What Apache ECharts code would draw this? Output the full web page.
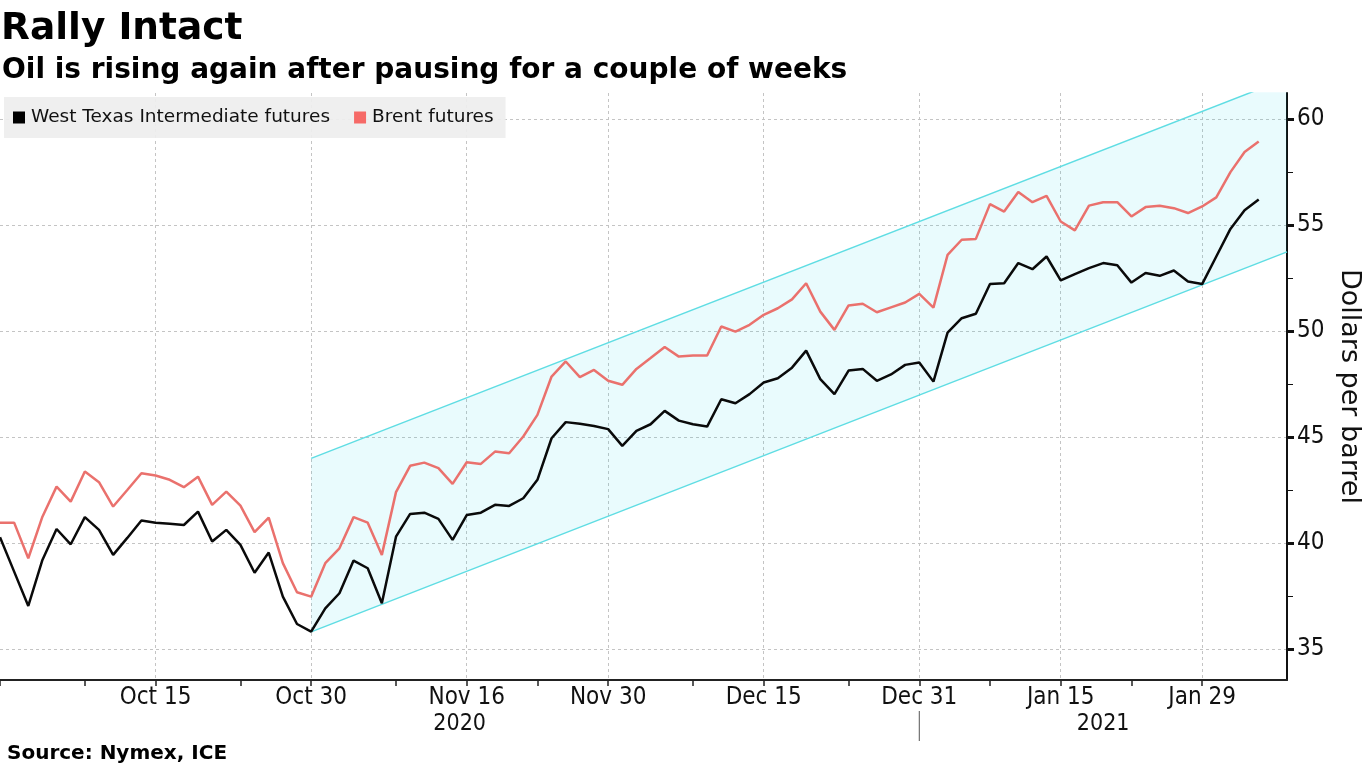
<!DOCTYPE html>
<html><head><meta charset="utf-8">
<script src="https://cdn.jsdelivr.net/npm/echarts@6/dist/echarts.min.js"></script>
<style>html,body{margin:0;padding:0;background:#fff;}#c{width:1365px;height:767px;}</style>
</head><body><div id="c"></div>
<script>
// Trading days shown on the category axis
const dates = [
'2020-09-30','2020-10-01','2020-10-02','2020-10-05','2020-10-06','2020-10-07','2020-10-08','2020-10-09',
'2020-10-12','2020-10-13','2020-10-14','2020-10-15','2020-10-16','2020-10-19','2020-10-20','2020-10-21',
'2020-10-22','2020-10-23','2020-10-26','2020-10-27','2020-10-28','2020-10-29','2020-10-30','2020-11-02',
'2020-11-03','2020-11-04','2020-11-05','2020-11-06','2020-11-09','2020-11-10','2020-11-11','2020-11-12',
'2020-11-13','2020-11-16','2020-11-17','2020-11-18','2020-11-19','2020-11-20','2020-11-23','2020-11-24',
'2020-11-25','2020-11-26','2020-11-27','2020-11-30','2020-12-01','2020-12-02','2020-12-03','2020-12-04',
'2020-12-07','2020-12-08','2020-12-09','2020-12-10','2020-12-11','2020-12-14','2020-12-15','2020-12-16',
'2020-12-17','2020-12-18','2020-12-21','2020-12-22','2020-12-23','2020-12-24','2020-12-28','2020-12-29',
'2020-12-30','2020-12-31','2021-01-04','2021-01-05','2021-01-06','2021-01-07','2021-01-08','2021-01-11',
'2021-01-12','2021-01-13','2021-01-14','2021-01-15','2021-01-18','2021-01-19','2021-01-20','2021-01-21',
'2021-01-22','2021-01-25','2021-01-26','2021-01-27','2021-01-28','2021-01-29','2021-02-01','2021-02-02',
'2021-02-03','2021-02-04','2021-02-05','2021-02-08'
];

const wti = [
40.28,38.66,37.04,39.21,40.67,39.95,41.23,40.63,39.45,40.25,41.07,40.97,40.92,40.86,41.49,40.08,
40.63,39.92,38.61,39.56,37.48,36.19,35.83,36.93,37.64,39.18,38.82,37.17,40.31,41.38,41.44,41.15,
40.16,41.33,41.44,41.81,41.76,42.12,42.99,44.95,45.71,45.63,45.53,45.38,44.59,45.30,45.61,46.24,
45.78,45.61,45.50,46.79,46.60,47.03,47.58,47.78,48.28,49.08,47.74,47.03,48.14,48.22,47.66,47.96,
48.41,48.52,47.62,49.93,50.61,50.82,52.22,52.26,53.21,52.92,53.52,52.39,52.69,52.97,53.21,53.11,
52.29,52.74,52.61,52.86,52.34,52.22,53.52,54.82,55.70,56.21
];

const brent = [
40.97,40.97,39.29,41.25,42.67,41.96,43.38,42.88,41.73,42.51,43.30,43.19,42.99,42.64,43.14,41.81,
42.43,41.77,40.52,41.21,39.06,37.69,37.48,39.06,39.76,41.23,40.97,39.45,42.41,43.65,43.80,43.54,
42.80,43.82,43.74,44.32,44.24,45.03,46.05,47.86,48.57,47.83,48.17,47.66,47.47,48.22,48.73,49.25,
48.80,48.85,48.85,50.22,49.98,50.30,50.77,51.08,51.50,52.26,50.92,50.06,51.21,51.29,50.89,51.12,
51.35,51.76,51.11,53.60,54.31,54.35,55.99,55.64,56.56,56.08,56.38,55.17,54.75,55.92,56.08,56.08,
55.41,55.85,55.91,55.80,55.57,55.88,56.31,57.50,58.45,58.94
];

// Trend channel: lower edge endpoints [category index, value] and channel height
const channelLower = [[22, 35.82], [91, 53.74]];
const channelHeight = [[22, 8.18], [91, 8.18]];

const tickLabelDates = ['2020-10-15','2020-10-30','2020-11-16','2020-11-30','2020-12-15','2020-12-31','2021-01-15','2021-01-29'];
const tickLabels = ['Oct 15','Oct 30','Nov 16','Nov 30','Dec 15','Dec 31','Jan 15','Jan 29'];
const minorTickDates = ['2020-09-30','2020-10-08','2020-10-23','2020-11-09','2020-11-23','2020-12-08','2020-12-23','2021-01-08','2021-01-22'];
const yearLabels = ['2020','2021'];
const yearBoundaryDate = '2020-12-31';
const yLabelValues = [35,40,45,50,55,60];
const yMinorValues = [35,37.5,40,42.5,45,47.5,50,52.5,55,57.5,60];
const yMin = 33.55, yMax = 61.23;

const labelMap = {};
tickLabelDates.forEach((d, i) => labelMap[d] = tickLabels[i]);

const FONT = "'DejaVu Sans', Verdana, sans-serif";
const COND = "'DejaVu Sans Condensed', 'DejaVu Sans', sans-serif";

const chart = echarts.init(document.getElementById('c'), null, {renderer: 'canvas'});

const option = {
  animation: false,
  backgroundColor: '#ffffff',
  title: [
    {text: 'Rally Intact', left: 1, top: 10, padding: 0, textStyle: {fontFamily: FONT, fontWeight: 'bold', fontSize: 37.5, color: '#000'}},
    {text: 'Oil is rising again after pausing for a couple of weeks', left: 2, top: 57, padding: 0, textStyle: {fontFamily: FONT, fontWeight: 'bold', fontSize: 28, color: '#000'}},
    {text: 'Source: Nymex, ICE', left: 7, top: 744, padding: 0, textStyle: {fontFamily: FONT, fontWeight: 'bold', fontSize: 20, color: '#000'}}
  ],
  legend: {
    left: 4, top: 97,
    padding: [11, 12, 11, 9],
    backgroundColor: 'rgba(238,238,238,0.92)',
    itemWidth: 12, itemHeight: 12, itemGap: 24,
    icon: 'rect',
    textStyle: {fontFamily: FONT, fontSize: 18.5, color: '#111', padding: [0, 0, 0, 1]},
    data: [
      {name: 'West Texas Intermediate futures', itemStyle: {color: '#000'}},
      {name: 'Brent futures', itemStyle: {color: '#f66a67'}}
    ]
  },
  grid: {left: 0, right: 78, top: 93, bottom: 87, containLabel: false, outerBoundsMode: 'none'},
  xAxis: {
    type: 'category',
    data: dates,
    boundaryGap: false,
    axisLine: {show: true, lineStyle: {color: '#222', width: 2}},
    axisTick: {
      show: true, length: 6, lineStyle: {color: '#222', width: 1.5},
      interval: (idx, val) => labelMap[val] !== undefined || minorTickDates.indexOf(val) >= 0
    },
    axisLabel: {
      interval: (idx, val) => labelMap[val] !== undefined,
      formatter: (val) => labelMap[val] || '',
      fontFamily: COND, fontSize: 24, color: '#111', margin: 6
    },
    splitLine: {
      show: true,
      interval: (idx, val) => labelMap[val] !== undefined,
      lineStyle: {color: '#c4c4c4', type: [3, 3], width: 1}
    }
  },
  yAxis: [
    {
      type: 'value', position: 'right', min: yMin, max: yMax,
      name: 'Dollars per barrel', nameLocation: 'middle', nameRotate: -90, nameGap: 44,
      nameTextStyle: {fontFamily: FONT, fontSize: 27, color: '#111'},
      axisLine: {show: true, lineStyle: {color: '#111', width: 2}},
      axisTick: {show: true, length: 7, customValues: yLabelValues, lineStyle: {color: '#111', width: 3}},
      axisLabel: {customValues: yLabelValues, fontFamily: COND, fontSize: 24, color: '#111', margin: 10},
      splitLine: {show: true, lineStyle: {color: '#c4c4c4', type: [3, 3], width: 1}}
    },
    {
      type: 'value', position: 'right', min: yMin, max: yMax,
      axisLine: {show: false},
      axisTick: {show: true, length: 6, customValues: yMinorValues, lineStyle: {color: '#111', width: 1}},
      axisLabel: {show: false},
      splitLine: {show: false}
    }
  ],
  series: [
    {
      name: 'channelLower', type: 'line', stack: 'channel', data: channelLower,
      showSymbol: false, silent: true, z: 1,
      lineStyle: {color: '#5fdde3', width: 1.5}
    },
    {
      name: 'channelUpper', type: 'line', stack: 'channel', data: channelHeight,
      showSymbol: false, silent: true, z: 1,
      lineStyle: {color: '#5fdde3', width: 1.5},
      areaStyle: {color: 'rgba(0,214,230,0.12)', origin: 'auto'}
    },
    {
      name: 'West Texas Intermediate futures', type: 'line', data: wti,
      showSymbol: false, z: 3,
      lineStyle: {color: '#0a0a0a', width: 2.5}, itemStyle: {color: '#000'}
    },
    {
      name: 'Brent futures', type: 'line', data: brent,
      showSymbol: false, z: 3,
      lineStyle: {color: '#ea716d', width: 2.5}, itemStyle: {color: '#f66a67'}
    }
  ]
};
chart.setOption(option);

// Year labels and separator placed through the axis scale
const x0 = chart.convertToPixel({xAxisIndex: 0}, dates[0]);
const xb = chart.convertToPixel({xAxisIndex: 0}, yearBoundaryDate);
const xe = chart.convertToPixel({xAxisIndex: 0}, dates[dates.length - 1]);
chart.setOption({
  graphic: [
    {type: 'text', x: (x0 + xb) / 2, y: 713, style: {text: yearLabels[0], font: "23px " + COND, fill: '#111', align: 'center', verticalAlign: 'top'}},
    {type: 'text', x: (xb + xe) / 2, y: 713, style: {text: yearLabels[1], font: "23px " + COND, fill: '#111', align: 'center', verticalAlign: 'top'}},
    {type: 'line', shape: {x1: xb, y1: 711, x2: xb, y2: 741}, style: {stroke: '#555', lineWidth: 1}}
  ]
});
</script>
</body></html>
